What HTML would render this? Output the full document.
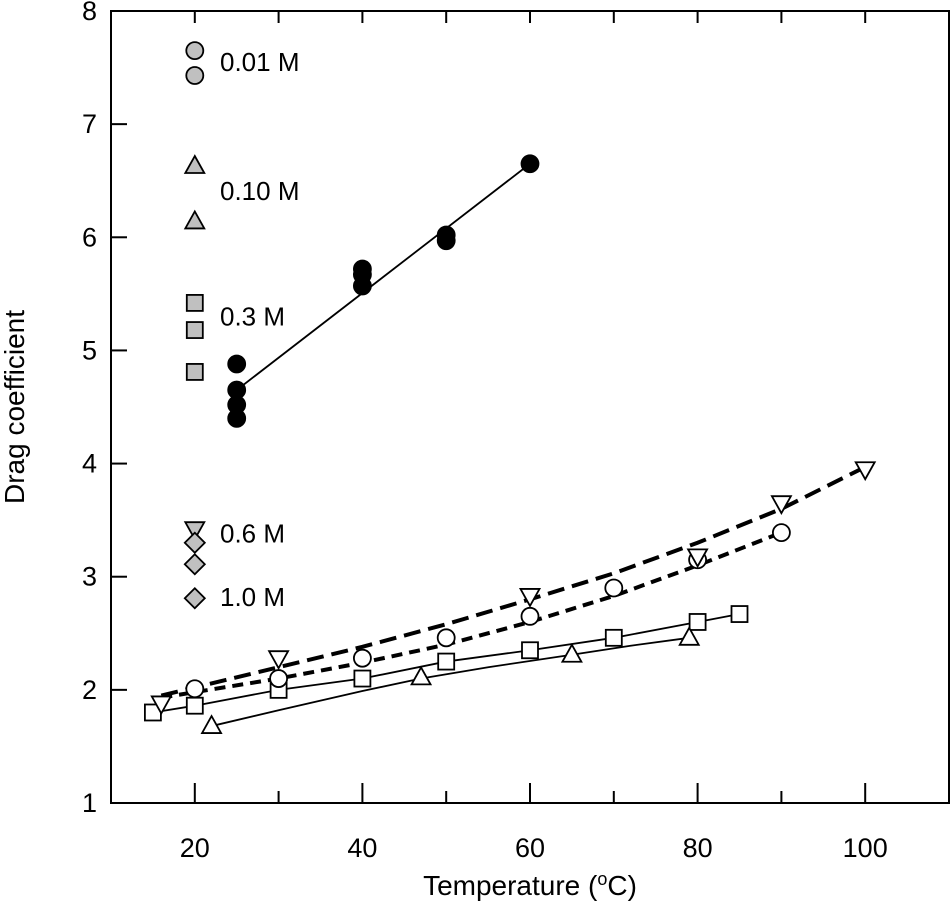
<!DOCTYPE html>
<html><head><meta charset="utf-8"><style>
body{margin:0;background:#fff}
svg text{font-family:"Liberation Sans",Arial,sans-serif}
</style></head><body>
<svg id="chart" width="950" height="911" xmlns="http://www.w3.org/2000/svg"></svg>
<script>
const filledX=[25,25,25,25,40,40,40,50,50,60];
const filledY=[4.88,4.65,4.52,4.40,5.72,5.67,5.57,6.02,5.97,6.65];
const fitFilledX=[25,60];
const fitFilledY=[4.65,6.65];
const downX=[16,30,60,80,90,100];
const downY=[1.88,2.28,2.83,3.18,3.65,3.95];
const downFitX=[16,30,40,50,60,70,80,90,100];
const downFitY=[1.95,2.2,2.38,2.58,2.8,3.03,3.3,3.6,3.97];
const circX=[20,30,40,50,60,70,80,90];
const circY=[2.01,2.1,2.28,2.46,2.65,2.9,3.15,3.39];
const circFitX=[16,20,30,40,50,60,70,80,90];
const circFitY=[1.93,1.98,2.1,2.24,2.4,2.6,2.83,3.1,3.39];
const sqX=[15,20,30,40,50,60,70,80,85];
const sqY=[1.8,1.86,2.0,2.1,2.25,2.35,2.46,2.6,2.67];
const triX=[22,47,65,79];
const triY=[1.68,2.11,2.31,2.46];
const triFitX=[22,30,40,47,55,65,72,79];
const triFitY=[1.68,1.82,1.99,2.1,2.2,2.31,2.39,2.46];
const legCircY=[7.65,7.43];
const legTriY=[6.63,6.14];
const legSqY=[5.42,5.18,4.81];
const legDownY=[3.42];
const legDiaY=[3.30,3.11,2.81];
const legendX=20;
const legendLabels=["0.01 M","0.10 M","0.3 M","0.6 M","1.0 M"];
const legendLabelY=[7.55,6.41,5.3,3.38,2.82];
const xTicks=[20,40,60,80,100];
const xMinor=[30,50,70,90];
const yTicks=[1,2,3,4,5,6,7,8];

const NS="http://www.w3.org/2000/svg";
const svg=document.getElementById('chart');
const L=111,R=949,T=11,B=803;
const X=v=>L+(v-10)/100*(R-L);
const Y=v=>B-(v-1)/7*(B-T);
function el(tag,attrs,parent){const e=document.createElementNS(NS,tag);for(const k in attrs)e.setAttribute(k,attrs[k]);(parent||svg).appendChild(e);return e;}

const frame=el('rect',{x:L,y:T,width:R-L,height:B-T,fill:'none',stroke:'#000','stroke-width':2});


xTicks.forEach(v=>{
  const t=el('rect',{x:X(v)-1,y:B-20,width:2,height:20,fill:'#000'});
  
  
  const t2=el('rect',{x:X(v)-1,y:T,width:2,height:12,fill:'#000'});
  
  
  const lb=el('text',{x:X(v),y:B+54,'text-anchor':'middle','font-size':27});
  lb.textContent=v;
  
  
});
xMinor.forEach(v=>{
  const t=el('rect',{x:X(v)-1,y:B-12,width:2,height:12,fill:'#000'});
  
  
  const t2=el('rect',{x:X(v)-1,y:T,width:2,height:12,fill:'#000'});
  
  
});
yTicks.forEach(v=>{
  const t=el('rect',{x:L,y:Y(v)-1,width:16,height:2,fill:'#000'});
  
  
  const lb=el('text',{x:L-14,y:Y(v)+9,'text-anchor':'end','font-size':27});
  lb.textContent=v;
  
  
});
const xt=el('text',{x:530,y:895,'text-anchor':'middle','font-size':28});
xt.innerHTML='Temperature (<tspan baseline-shift="super" font-size="18">o</tspan>C)';


const yt=el('text',{x:0,y:0,'text-anchor':'middle','font-size':28,transform:'translate(24,407) rotate(-90)'});
yt.textContent='Drag coefficient';



function line(xs,ys,extra,name){
  const p=el('polyline',Object.assign({points:xs.map((x,i)=>X(x)+','+Y(ys[i])).join(' '),fill:'none',stroke:'#000'},extra));
  
  
}
line(fitFilledX,fitFilledY,{'stroke-width':1.8},'fit-line-filled');
line(downFitX,downFitY,{'stroke-width':4,'stroke-dasharray':'17,8'},'fit-line-down-triangle');
line(circFitX,circFitY,{'stroke-width':4,'stroke-dasharray':'11,7'},'fit-line-circle');
line(sqX,sqY,{'stroke-width':1.8},'line-square');
line(triFitX,triFitY,{'stroke-width':1.8},'line-triangle');

function marker(type,x,y,fill,name){
  const cx=X(x),cy=Y(y);let e;
  const a={fill:fill,stroke:'#000','stroke-width':1.8};
  if(type==='c')e=el('circle',Object.assign({cx:cx,cy:cy,r:8.5},a));
  else if(type==='s')e=el('rect',Object.assign({x:cx-8,y:cy-8,width:16,height:16},a));
  else if(type==='t')e=el('polygon',Object.assign({points:`${cx},${cy-10} ${cx-9.5},${cy+7} ${cx+9.5},${cy+7}`},a));
  else if(type==='d')e=el('polygon',Object.assign({points:`${cx},${cy+10} ${cx-9.5},${cy-7} ${cx+9.5},${cy-7}`},a));
  else e=el('polygon',Object.assign({points:`${cx},${cy-10} ${cx+10},${cy} ${cx},${cy+10} ${cx-10},${cy}`},a));
  
  
}
filledX.forEach((x,i)=>marker('c',x,filledY[i],'#000','point-filled-circle'));
sqX.forEach((x,i)=>marker('s',x,sqY[i],'#fff','point-square'));
triX.forEach((x,i)=>marker('t',x,triY[i],'#fff','point-triangle'));
circX.forEach((x,i)=>marker('c',x,circY[i],'#fff','point-circle'));
downX.forEach((x,i)=>marker('d',x,downY[i],'#fff','point-down-triangle'));
const g='#c0c0c0';
legCircY.forEach(y=>marker('c',legendX,y,g,'legend-marker-0-01M'));
legTriY.forEach(y=>marker('t',legendX,y,g,'legend-marker-0-10M'));
legSqY.forEach(y=>marker('s',legendX,y,g,'legend-marker-0-3M'));
legDownY.forEach(y=>marker('d',legendX,y,g,'legend-marker-0-6M'));
legDiaY.forEach(y=>marker('m',legendX,y,g,'legend-marker-1-0M'));
legendLabels.forEach((s,i)=>{
  const t=el('text',{x:220,y:Y(legendLabelY[i])+9,'font-size':26});
  t.textContent=s;
  
  
});
</script>
</body></html>
